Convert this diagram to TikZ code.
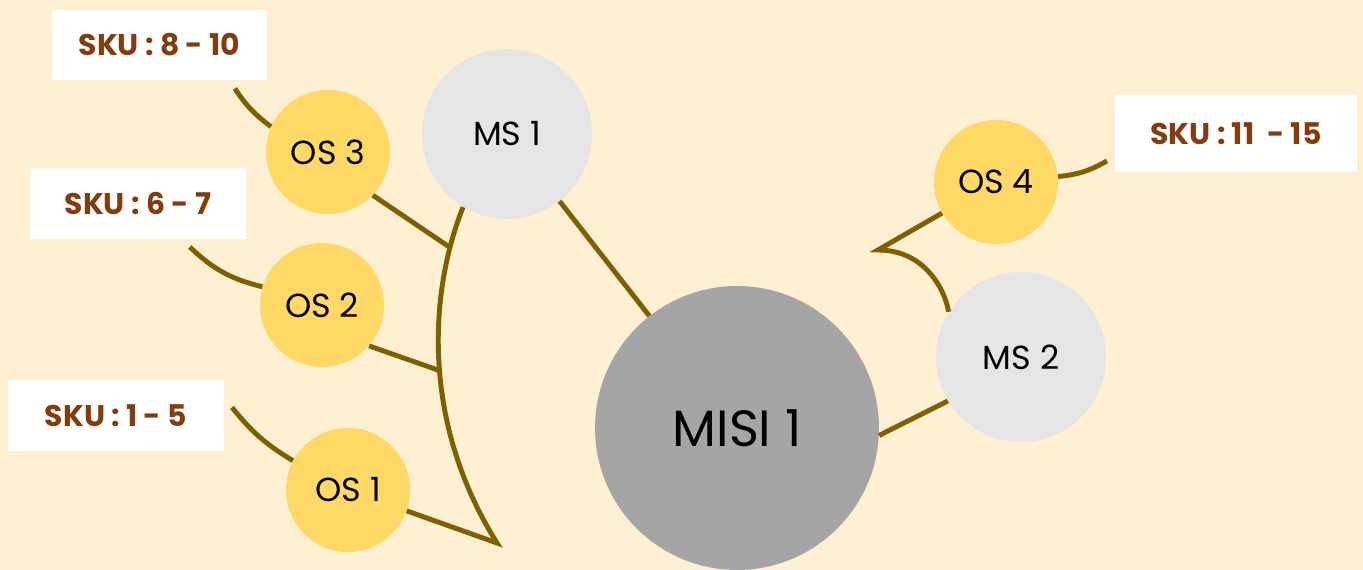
\documentclass[tikz,border=0pt]{standalone}
\usepackage{fontspec}
\setmainfont{Poppins}
\usepackage{tikz}
\usetikzlibrary{shapes.geometric}
\definecolor{bgc}{HTML}{FFF0D4}
\definecolor{linkc}{HTML}{7F6000}
\definecolor{osc}{HTML}{FFD966}
\definecolor{msc}{HTML}{E5E5E5}
\definecolor{misic}{HTML}{A5A5A5}
\definecolor{skuc}{HTML}{843C0C}
\tikzstyle{link} = [line width=2.8pt, draw=linkc]
\tikzstyle{os} = [circle, fill=osc, minimum size=2.48cm, inner sep=0pt, font=\fontsize{19}{22}\selectfont]
\tikzstyle{ms} = [circle, fill=msc, minimum size=3.4cm, inner sep=0pt, font=\fontsize{19}{22}\selectfont]
\tikzstyle{misi} = [circle, fill=misic, minimum size=5.68cm, inner sep=0pt, font=\fontsize{29}{34}\selectfont]
\tikzstyle{sku} = [rectangle, fill=white, minimum width=4.32cm, minimum height=1.42cm, inner sep=0pt, outer sep=0.16cm, text=skuc, font=\bfseries\fontsize{17}{20}\selectfont]

\begin{document}
\begin{tikzpicture}[x=0.02cm, y=-0.02cm]
	\useasboundingbox (0,0) rectangle (1363,570);
	\clip (0,0) rectangle (1363,570);
	\fill [bgc] (0,0) rectangle (1363,570);
	% circles
	\node (misi) [misi] at (737,428) {MISI 1};
	\node (ms1) [ms] at (507,134) {MS 1};
	\node (ms2) [ms] at (1021,357) {MS 2};
	\node (os1) [os] at (348,490) {OS 1};
	\node (os2) [os] at (322,305) {OS 2};
	\node (os3) [os] at (328,152) {OS 3};
	\node (os4) [os] at (996,182) {OS 4};
	% sku boxes
	\node (sku810) [sku] at (159.5,45) {SKU : 8 - 10};
	\node (sku67) [sku] at (138,203.5) {SKU : 6 - 7};
	\node (sku15) [sku] at (116,415.5) {SKU : 1 - 5};
	\node (sku1115) [sku, minimum width=4.84cm, minimum height=1.54cm] at (1236,133.5) {SKU : 11~ - 15};
	% links
	\draw [link] (ms1) -- (misi);
	\draw [link] (ms2.211) -- (misi.-3);
	\draw [link] (ms1.239) .. controls (430,290) and (420,420) .. coordinate[pos=0.15] (j3) coordinate[pos=0.53] (j2) (497,543) coordinate (tip) -- (os1);
	\draw [link] (os3.-44) -- (j3);
	\draw [link] (os2.-41) -- (j2);
	\coordinate (jr) at (878,250);
	\draw [link] (os4) -- (jr) .. controls (925,250) and (945,290) .. (ms2.148);
	\draw [link] (sku810.-30) to[bend right=10] (os3.156);
	\draw [link] (sku67.-40) to[bend right=15] (os2.163);
	\draw [link] (sku15.4) to[bend right=10] (os1.152);
	\draw [link] (os4.5) to[bend right=12] (sku1115.192);
\end{tikzpicture}
\end{document}
